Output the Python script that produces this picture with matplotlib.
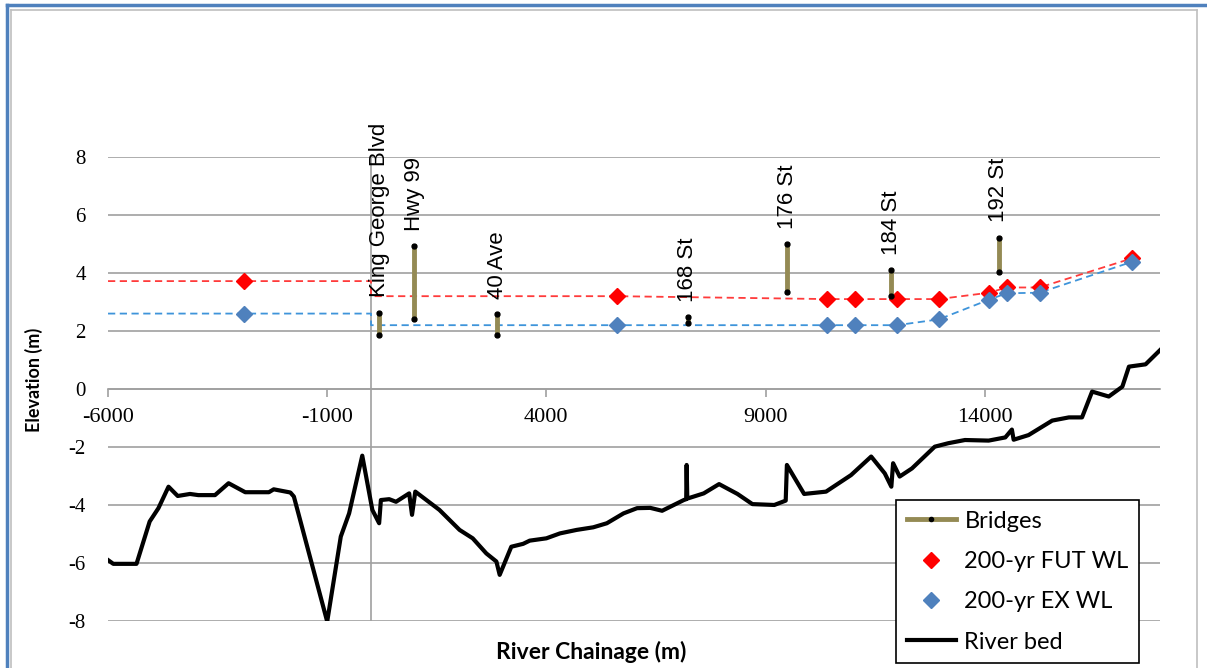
import matplotlib
matplotlib.use('Agg')
import matplotlib.pyplot as plt
from matplotlib.lines import Line2D

plt.rcParams['axes.unicode_minus'] = False

# River bed profile (chainage m, elevation m)
bed_x = [-6000, -5880, -5350, -5050, -4850, -4620, -4410, -4130, -3940, -3560,
         -3250, -2870, -2330, -2220, -1840, -1760, -1000, -690, -500, -200,
         30, 185, 225, 415, 570, 870, 935, 1010, 1560, 2020,
         2320, 2630, 2860, 2935, 3200, 3470, 3620, 4000, 4310, 4690,
         5070, 5380, 5760, 6070, 6370, 6640, 7135, 7190, 7200, 7215,
         7590, 7940, 8360, 8700, 9200, 9460, 9487, 9880, 10380, 10950,
         11410, 11720, 11870, 11910, 12060, 12340, 12860, 13170, 13550, 14090,
         14470, 14620, 14660, 15000, 15540, 15920, 16220, 16450, 16830, 17140,
         17290, 17670, 18000]
bed_z = [-5.90, -6.03, -6.03, -4.57, -4.11, -3.37, -3.69, -3.62, -3.66, -3.66,
         -3.25, -3.56, -3.56, -3.46, -3.57, -3.71, -8.02, -5.09, -4.29, -2.30,
         -4.17, -4.63, -3.83, -3.80, -3.89, -3.60, -4.34, -3.54, -4.17, -4.86,
         -5.15, -5.67, -5.95, -6.41, -5.44, -5.34, -5.23, -5.15, -4.98, -4.86,
         -4.77, -4.63, -4.29, -4.11, -4.10, -4.20, -3.83, -3.80, -2.62, -3.78,
         -3.60, -3.28, -3.62, -3.97, -4.00, -3.85, -2.62, -3.62, -3.54, -2.97,
         -2.33, -2.91, -3.37, -2.56, -3.02, -2.74, -1.99, -1.87, -1.76, -1.78,
         -1.67, -1.40, -1.75, -1.59, -1.09, -0.98, -0.98, -0.09, -0.26, 0.08,
         0.77, 0.85, 1.34]

# 200-yr water levels
wl_x = [-2900, 5600, 10400, 11050, 12000, 12950, 14100, 14500, 15250, 17350]
fut_wl = [3.72, 3.20, 3.10, 3.10, 3.10, 3.10, 3.32, 3.50, 3.50, 4.50]
ex_wl = [2.60, 2.20, 2.20, 2.20, 2.20, 2.40, 3.08, 3.30, 3.32, 4.38]

# Bridges
bridge_names = ['King George Blvd', 'Hwy 99', '40 Ave', '168 St', '176 St', '184 St', '192 St']
bridge_x = [190, 990, 2880, 7220, 9490, 11870, 14320]
bridge_top = [2.63, 4.93, 2.59, 2.48, 5.00, 4.10, 5.22]
bridge_bottom = [1.86, 2.40, 1.86, 2.28, 3.34, 3.22, 4.02]

x_ticks = [-6000, -1000, 4000, 9000, 14000]
y_ticks = [-8, -6, -4, -2, 0, 2, 4, 6, 8]

x_min, x_max = -6000, 18000
olive = '#948A54'
grid_c = '#A0A0A0'

fig = plt.figure(figsize=(12.07, 6.68), dpi=100)
ax = fig.add_axes([0.0895, 0.0704, 0.8716, 0.6946])
ax.set_xlim(x_min, x_max)
ax.set_ylim(-8, 8)

# axes look (Excel style)
for s in ['top', 'right', 'left']:
    ax.spines[s].set_visible(False)
ax.spines['bottom'].set_position(('data', 0))
ax.spines['bottom'].set_color(grid_c)
ax.spines['bottom'].set_linewidth(1.2)
ax.set_yticks(y_ticks, labels=[str(v) for v in y_ticks],
              fontfamily='Liberation Serif', fontsize=15)
ax.yaxis.grid(True, color=grid_c, lw=1.2)
ax.set_axisbelow(True)
ax.axvline(0, color=grid_c, lw=1.2, zorder=1)
ax.tick_params(axis='y', length=0, pad=16)
ax.set_xticks(x_ticks, labels=[str(v) for v in x_ticks],
              fontfamily='Liberation Serif', fontsize=16)
ax.tick_params(axis='x', direction='out', length=6, width=1.2, color=grid_c, pad=8)

# water level dashed profiles: flat upstream of chainage 0, then through the points
line_x = [x_min, 0, 0] + wl_x[1:]
ax.plot(line_x, [fut_wl[0], fut_wl[0], fut_wl[1]] + fut_wl[1:], color='#FF3B3B',
        lw=1.3, ls=(0, (4, 2.5)), zorder=3)
ax.plot(line_x, [ex_wl[0], ex_wl[0], ex_wl[1]] + ex_wl[1:], color='#3E94DA',
        lw=1.3, ls=(0, (4, 2.5)), zorder=3)
ax.plot(wl_x, fut_wl, ls='none', marker='D', ms=8, color='#FF0000', zorder=4)
ax.plot(wl_x, ex_wl, ls='none', marker='D', ms=8, color='#4F81BD', zorder=4)

# bridges
for name, bx, top, bot in zip(bridge_names, bridge_x, bridge_top, bridge_bottom):
    ax.plot([bx, bx], [bot, top], color=olive, lw=3.5, zorder=5)
    ax.plot([bx, bx], [bot, top], ls='none', marker='o', ms=3.5, color='black', zorder=6)
    ax.annotate(name, (bx, top), xytext=(0, 11), textcoords='offset points',
                rotation=90, ha='center', va='bottom', fontsize=16,
                family='Liberation Sans', annotation_clip=False)

# river bed
ax.plot(bed_x, bed_z, color='black', lw=3, zorder=5)

fig.text(0.028, 0.432, 'Elevation (m)', rotation=90, ha='center', va='center',
         fontsize=13, fontweight='bold', family='Lato')
fig.text(0.49, 0.024, 'River Chainage (m)', ha='center', va='center',
         fontsize=16.5, fontweight='bold', family='Lato')

handles = [
    Line2D([], [], color=olive, lw=3.5, marker='o', ms=3, mfc='black', mec='black'),
    Line2D([], [], ls='none', marker='D', ms=8, color='#FF0000'),
    Line2D([], [], ls='none', marker='D', ms=8, color='#4F81BD'),
    Line2D([], [], color='black', lw=3),
]
labels = ['Bridges', '200-yr FUT WL', '200-yr EX WL', 'River bed']
leg = fig.legend(handles, labels, loc='upper left', bbox_to_anchor=(0.7423, 0.2515),
                 bbox_transform=fig.transFigure, frameon=True, fancybox=False,
                 edgecolor='black', framealpha=1, borderaxespad=0, numpoints=1,
                 handlelength=2.1, handletextpad=0.35, labelspacing=0.82, borderpad=0.45,
                 prop={'family': 'Lato', 'size': 17})
leg.get_frame().set_linewidth(1.2)

# outer chart border
fig.add_artist(Line2D([0.006, 1.0], [0.992, 0.992], color='#4F81BD', lw=2.5, transform=fig.transFigure))
fig.add_artist(Line2D([0.006, 0.006], [0.0, 0.992], color='#4F81BD', lw=2.5, transform=fig.transFigure))
fig.add_artist(Line2D([0.0095, 0.992], [0.985, 0.985], color='#BFBFBF', lw=1.2, transform=fig.transFigure))
fig.add_artist(Line2D([0.0095, 0.0095], [0.0, 0.985], color='#BFBFBF', lw=1.2, transform=fig.transFigure))
fig.add_artist(Line2D([0.992, 0.992], [0.0, 0.985], color='#BFBFBF', lw=1.2, transform=fig.transFigure))

fig.savefig('out.png', dpi=100)
